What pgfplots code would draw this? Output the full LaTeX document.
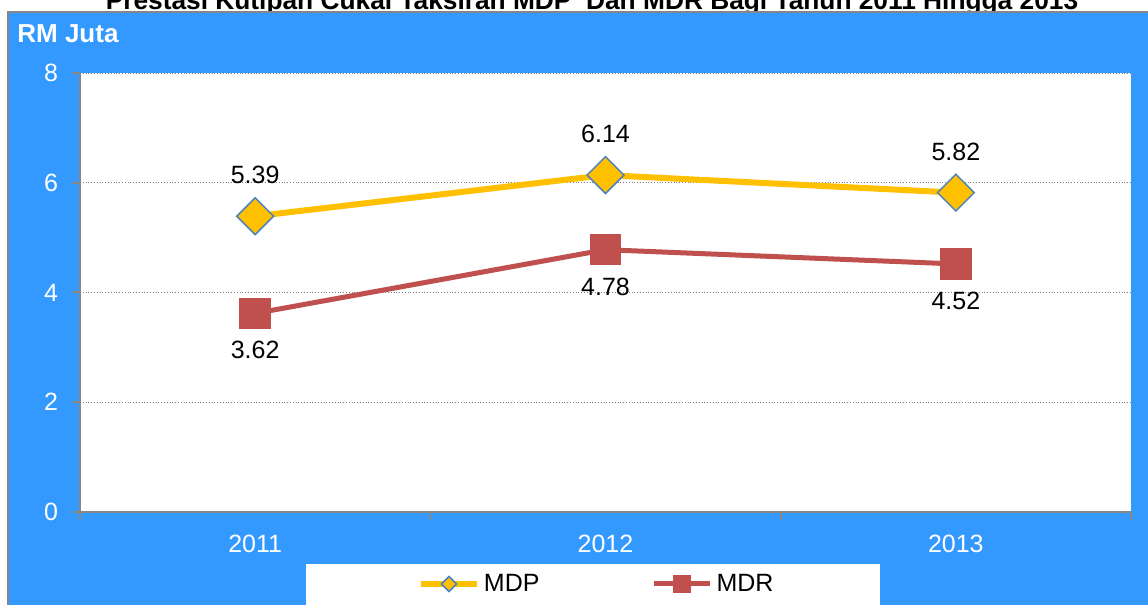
\documentclass[border=0pt]{standalone}
\usepackage{fontspec}
\setmainfont{Liberation Sans}
\usepackage{pgfplots}
\pgfplotsset{compat=1.18}
\definecolor{bgblue}{RGB}{51,153,255}
\definecolor{mdp}{RGB}{255,192,0}
\definecolor{mdpedge}{RGB}{79,129,189}
\definecolor{mdr}{RGB}{192,80,77}
\definecolor{axgray}{RGB}{134,134,134}
\pgfkeys{/my/lms/.initial=3pt}
\begin{document}
\begin{tikzpicture}
\node[anchor=base, font=\fontsize{13.15}{15}\selectfont\bfseries, inner sep=0pt] at (296pt,297.5pt) {Prestasi Kutipan Cukai Taksiran MDP\ \ Dan MDR Bagi Tahun 2011 Hingga 2013};
\fill[bgblue] (4pt,0pt) rectangle (574pt,296.5pt);
\draw[axgray, line width=1pt] (4pt,0pt) -- (4pt,296.5pt) -- (574pt,296.5pt);
\node[anchor=base west, inner sep=0pt, text=white, font=\fontsize{13}{15}\selectfont\bfseries] at (8.5pt,281pt) {RM Juta};
\fill[white] (153pt,0pt) rectangle (440pt,20.5pt);
\begin{axis}[
  at={(40pt,46.5pt)}, anchor=south west,
  width=525.5pt, height=219.5pt, scale only axis,
  xmin=0.5, xmax=3.5, ymin=0, ymax=8,
  axis x line*=bottom, axis y line*=left,
  axis line style={axgray, line width=1pt, -},
  axis background/.style={fill=white},
  xtick={0.5,1.5,2.5,3.5}, xticklabels={,,,},
  extra x ticks={1,2,3}, extra x tick labels={2011,2012,2013},
  extra x tick style={major tick length=0pt},
  ytick={0,2,4,6,8},
  ymajorgrids, grid style={gray, densely dotted, line width=0.5pt},
  tick align=outside, major tick length=4pt,
  tick style={axgray, line width=1pt},
  /pgf/number format/assume math mode=true,
  ticklabel style={text=white, font=\fontsize{12.5}{15}\selectfont},
  xticklabel style={yshift=-8pt},
  yticklabel style={xshift=-3.5pt},
  legend columns=2,
  legend style={at={(axis description cs:0.3212,-0.164)}, anchor=west, draw=none, fill=none,
    font=\fontsize{12.5}{15}\selectfont, inner sep=0pt,
    /tikz/every even column/.append style={column sep=54pt}},
  legend image code/.code={\draw[mark repeat=2,mark phase=2,#1, mark size=\pgfkeysvalueof{/my/lms}] plot coordinates {(0pt,0pt) (14pt,0pt) (28pt,0pt)};},
  nodes near coords={\pgfmathprintnumber[fixed,fixed zerofill,precision=2,assume math mode=true]{\pgfplotspointmeta}},
  every node near coord/.append style={text=black, font=\fontsize{12.5}{15}\selectfont, anchor=center},
]
\addplot[mdp, line width=3pt, mark=square*, mark size=6.5pt,
  mark options={solid, rotate=45, fill=mdp, draw=mdpedge, line width=0.75pt},
  every node near coord/.append style={yshift=20.5pt},
  /my/lms=2.65pt
] coordinates {(1,5.39) (2,6.14) (3,5.82)};
\addlegendentry{MDP}
\addplot[mdr, line width=2.5pt, mark=square*, mark size=7.6pt,
  mark options={solid, fill=mdr, draw=mdr, line width=0pt},
  every node near coord/.append style={yshift=-18.5pt},
  /my/lms=4.4pt
] coordinates {(1,3.62) (2,4.78) (3,4.52)};
\addlegendentry{MDR}
\end{axis}
\pgfresetboundingbox
\useasboundingbox (0pt,0pt) rectangle (574pt,302.5pt);
\end{tikzpicture}
\end{document}
